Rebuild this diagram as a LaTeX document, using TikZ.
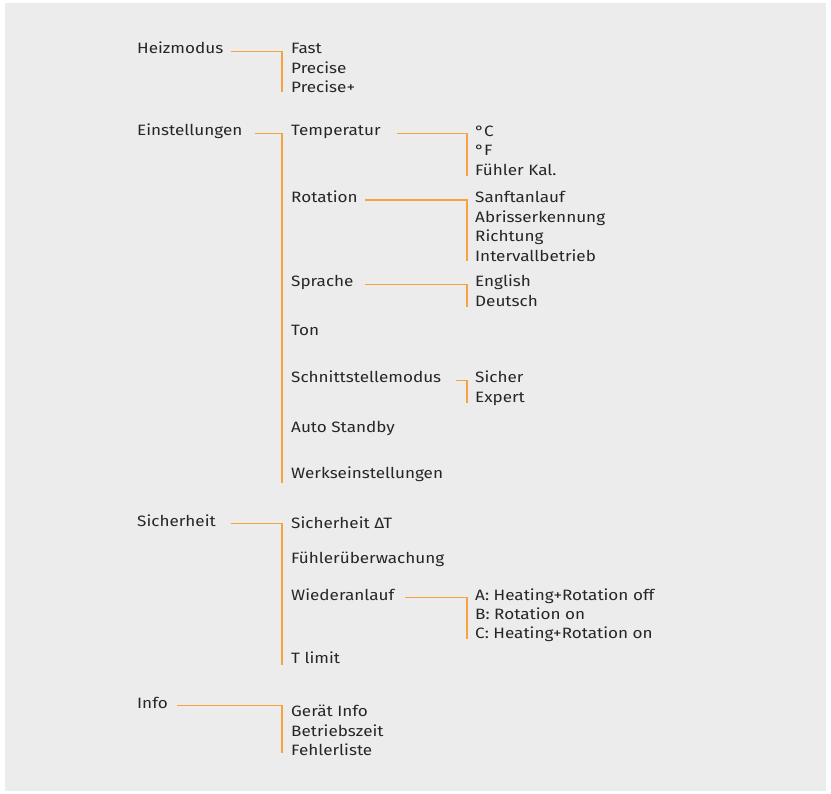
\documentclass[tikz,border=0pt]{standalone}
\usepackage{fontspec}
\setmainfont{Fira Sans}[FakeStretch=1.14]
\usepackage{tikz}
\definecolor{menubg}{HTML}{ECECEC}
\definecolor{menuline}{HTML}{F7A23E}
\definecolor{menutext}{HTML}{262626}

\begin{document}
\begin{tikzpicture}[x=1pt,y=-1pt,
  item/.style={anchor=base west,inner sep=0pt,text=menutext,font=\fontsize{15}{18}\selectfont},
  conn/.style={draw=menuline,line width=1.5pt}]
% background
\useasboundingbox (0,0) rectangle (831,794);
\fill[menubg] (5,3) rectangle (826,791);
% main menu
\node[item] (heiz) at (137,54) {Heizmodus};
\node[item] (einst) at (137,136) {Einstellungen};
\node[item] (sich) at (137,526) {Sicherheit};
\node[item] (info) at (137,708) {Info};
% heizmodus entries
\node[item] (fast) at (291,54) {Fast};
\node[item] (prec) at (291,73.5) {Precise};
\node[item] (precp) at (291,93) {Precise+};
% einstellungen entries
\node[item] (temp) at (291,136) {Temperatur};
\node[item] (rot) at (291,202.5) {Rotation};
\node[item] (spr) at (291,287) {Sprache};
\node[item] (ton) at (291,336) {Ton};
\node[item] (schn) at (291,383) {Schnittstellemodus};
\node[item] (auto) at (291,433) {Auto Standby};
\node[item] (werk) at (291,479) {Werkseinstellungen};
% sicherheit entries
\node[item] (sdt) at (291,529) {Sicherheit ΔT};
\node[item] (fueh) at (291,564) {Fühlerüberwachung};
\node[item] (wied) at (291,600) {Wiederanlauf};
\node[item] (tlim) at (291,663) {T limit};
% info entries
\node[item] (geraet) at (291,716) {Gerät Info};
\node[item] (betr) at (291,736) {Betriebszeit};
\node[item] (fehl) at (291,755) {Fehlerliste};
% third level
\node[item] (degc) at (475,137) {°C};
\node[item] (degf) at (475,156) {°F};
\node[item] (kal) at (475,176) {Fühler Kal.};
\node[item] (sanft) at (475,203) {Sanftanlauf};
\node[item] (abr) at (475,222.5) {Abrisserkennung};
\node[item] (richt) at (475,242) {Richtung};
\node[item] (intv) at (475,261.5) {Intervallbetrieb};
\node[item] (engl) at (475,287) {English};
\node[item] (deut) at (475,306.5) {Deutsch};
\node[item] (sicher) at (475,383) {Sicher};
\node[item] (expert) at (475,403) {Expert};
\node[item] (wa) at (475,600) {A: Heating+Rotation off};
\node[item] (wb) at (475,619) {B: Rotation on};
\node[item] (wc) at (475,638.5) {C: Heating+Rotation on};
% orange brackets
\draw[conn] ([xshift=8pt]heiz.mid east) -| ([xshift=-9pt,yshift=1pt]precp.base west);
\draw[conn] ([xshift=12pt]einst.mid east) -| ([xshift=-9pt,yshift=-4pt]werk.base west);
\draw[conn] ([xshift=15pt]sich.mid east) -| ([xshift=-9pt,yshift=-2pt]tlim.base west);
\draw[conn] ([xshift=9pt]info.mid east) -| ([xshift=-9pt,yshift=2pt]fehl.base west);
\draw[conn] ([xshift=16pt]temp.mid east) -| ([xshift=-8pt]kal.base west);
\draw[conn] ([xshift=7pt]rot.mid east) -| ([xshift=-8pt]intv.base west);
\draw[conn] ([xshift=11pt]spr.mid east) -| ([xshift=-8pt,yshift=-0.5pt]deut.base west);
\draw[conn] ([xshift=15pt]schn.mid east) -| ([xshift=-8pt]expert.base west);
\draw[conn] ([xshift=11pt]wied.mid east) -| ([xshift=-8pt,yshift=-0.5pt]wc.base west);
\end{tikzpicture}
\end{document}
